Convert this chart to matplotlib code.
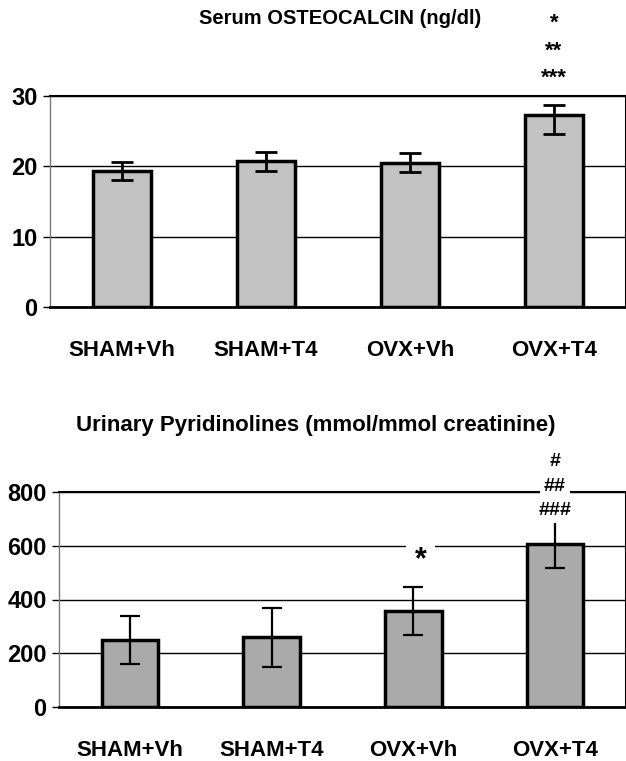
import numpy as np
import matplotlib
matplotlib.use("Agg")
import matplotlib.pyplot as plt

plt.rcParams['font.family'] = ['Liberation Sans Narrow', 'Liberation Sans', 'DejaVu Sans']
plt.rcParams['font.weight'] = 'bold'

groups = ['SHAM+Vh', 'SHAM+T4', 'OVX+Vh', 'OVX+T4']

# serum osteocalcin (ng/dl)
osteo_mean = [19.3, 20.7, 20.5, 27.3]
osteo_err_lo = [1.3, 1.4, 1.3, 2.7]
osteo_err_hi = [1.3, 1.3, 1.4, 1.4]
osteo_ticks = [0, 10, 20, 30]

# urinary pyridinolines (mmol/mmol creatinine)
pyr_mean = [250, 260, 357, 607]
pyr_err = [90, 110, 90, 90]
pyr_ticks = [0, 200, 400, 600, 800]

W, H = 626, 761
fig = plt.figure(figsize=(W / 100, H / 100), dpi=100)


def panel(rect, means, err, ticks, face, elw, cap):
    ax = fig.add_axes(rect)
    x = np.arange(len(groups))
    ax.bar(x, means, width=0.4, color=face, edgecolor='black', linewidth=2.5, zorder=2)
    ax.errorbar(x, means, yerr=err, fmt='none', ecolor='black', elinewidth=elw,
                capsize=cap, capthick=elw, zorder=3)
    ax.set_xlim(-0.5, 3.5)
    ax.set_ylim(ticks[0], ticks[-1])
    ax.set_yticks(ticks)
    ax.yaxis.grid(True, color='black', linewidth=1.0, zorder=0)
    ax.set_axisbelow(True)
    ax.set_xticks(x)
    ax.set_xticklabels(groups, fontsize=16, fontweight='bold')
    ax.tick_params(axis='x', length=0, pad=24)
    ax.tick_params(axis='y', length=5, width=1, labelsize=17, pad=4)
    for lab in ax.get_yticklabels():
        lab.set_fontweight('bold')
    ax.spines['left'].set_color('#777777')
    ax.spines['left'].set_linewidth(1.0)
    ax.spines['top'].set_linewidth(1.5)
    ax.spines['right'].set_linewidth(1.5)
    ax.spines['bottom'].set_linewidth(2.0)
    return ax


ax1 = panel([50 / W, 1 - 307 / H, 576 / W, 211 / H], osteo_mean,
            [osteo_err_lo, osteo_err_hi], osteo_ticks, '#c2c2c2', 2.0, 8)
for t, yv in zip(['*', '**', '***'], [40.3, 36.4, 32.5]):
    ax1.text(3, yv, t, ha='center', va='center', fontsize=16, fontweight='bold',
             clip_on=False)

ax2 = panel([59 / W, 1 - 707 / H, 567 / W, 215 / H], pyr_mean, pyr_err,
            pyr_ticks, '#aaaaaa', 1.6, 7.5)
ax2.text(2.05, 547, '*', ha='center', va='center', fontsize=22, fontweight='bold',
         bbox=dict(facecolor='white', edgecolor='none', pad=6), zorder=4)
for t, yv in zip(['#', '##', '###'], [912, 819, 733]):
    ax2.text(3, yv, t, ha='center', va='center', fontsize=14, fontweight='bold',
             bbox=dict(facecolor='white', edgecolor='none', pad=3), zorder=4,
             clip_on=False)

fig.text(340 / W, 1 - 18 / H, 'Serum OSTEOCALCIN (ng/dl)', ha='center', va='center',
         fontsize=14.5, fontweight='bold')
fig.text(316 / W, 1 - 426 / H, 'Urinary Pyridinolines (mmol/mmol creatinine)',
         ha='center', va='center', fontsize=16, fontweight='bold')

fig.savefig('out.png', dpi=100)
